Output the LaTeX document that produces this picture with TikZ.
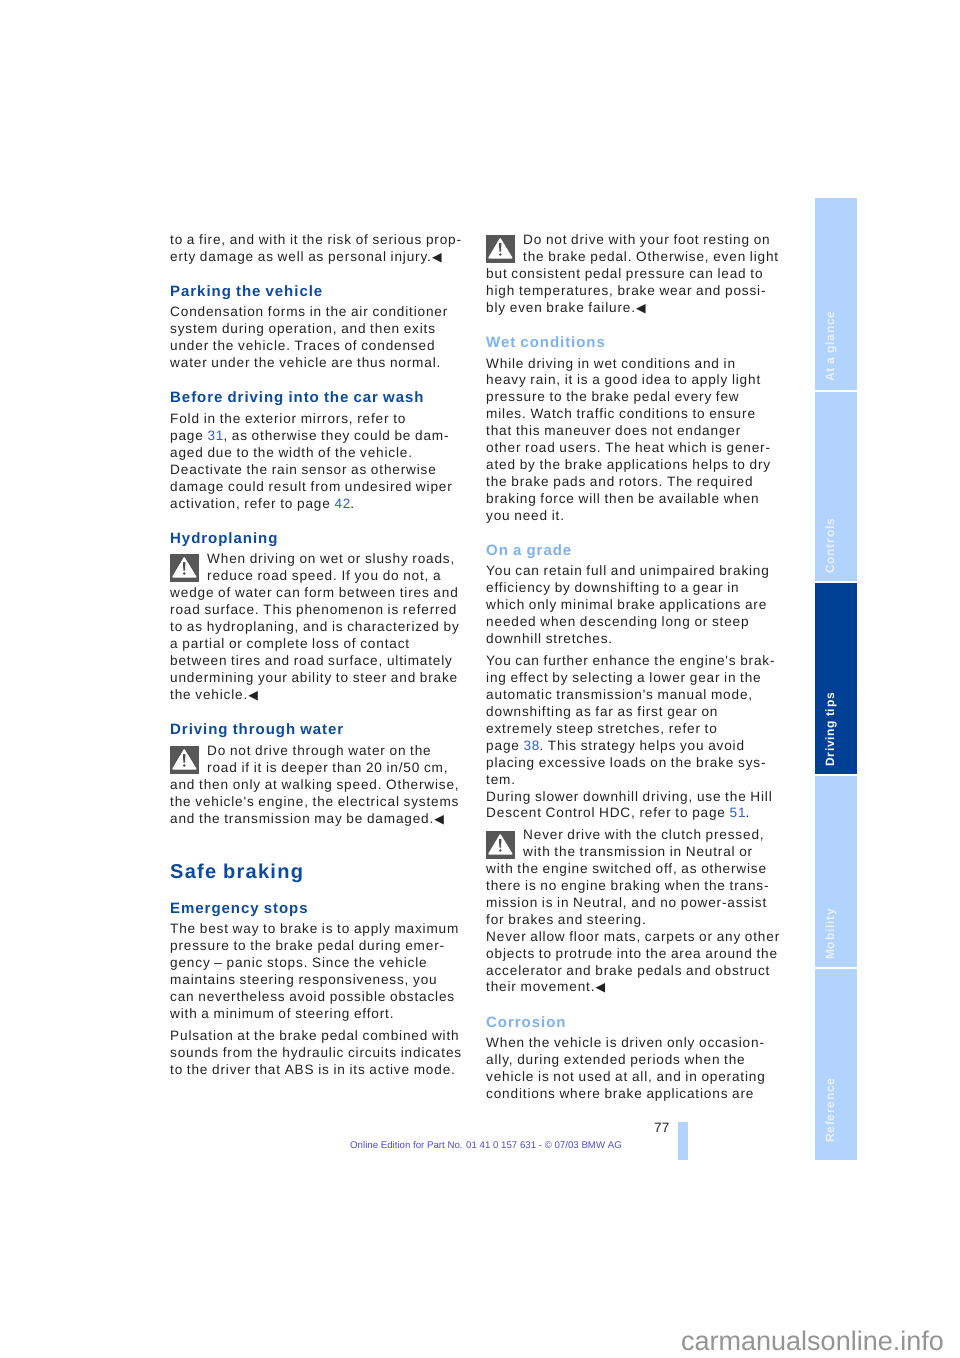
\documentclass[tikz,border=0pt]{standalone}
\usepackage{fontspec}
\setmainfont{Liberation Sans}
\newfontfamily\bodyfam[LetterSpace=6.15]{Liberation Sans}
\newfontfamily\headfam[LetterSpace=6.4,BoldFont={Liberation Sans Bold}]{Liberation Sans}
\newfontfamily\symfam{DejaVu Sans}
\definecolor{bodygray}{HTML}{222222}
\definecolor{headblue}{HTML}{0B4A9E}
\definecolor{paleblue}{HTML}{7DB1F7}
\definecolor{tabblue}{HTML}{B3D3FF}
\definecolor{tabdark}{HTML}{004094}
\definecolor{linkblue}{HTML}{2A5FD0}
\definecolor{footblue}{HTML}{4C4CD8}
\newcommand{\pagelink}[1]{\textcolor{linkblue}{#1}}
\newcommand{\stopmark}{\kern1pt{\symfam\fontsize{12.5pt}{10pt}\selectfont ◀}}
\tikzset{
 x=1pt, y=-1pt,
 bodytext/.style={anchor=base west, inner sep=0pt, yshift=0.5pt, text=bodygray, font=\frenchspacing\bodyfam\fontsize{13.6pt}{17pt}\selectfont},
 headtext/.style={anchor=base west, inner sep=0pt, text=headblue, font=\headfam\bfseries\fontsize{15pt}{17pt}\selectfont},
 paletext/.style={headtext, text=paleblue},
 tabtext/.style={anchor=base west, inner sep=0pt, rotate=90, text=white!68!tabblue, font=\headfam\bfseries\fontsize{12pt}{12pt}\selectfont},
 warnicon/.pic={
   \fill[black!66] (0,0) rectangle (28.5,28);
   \fill[white, rounded corners=1pt] (14.2,2.5) -- (27,23.5) -- (1.8,23.5) -- cycle;
   \fill[black!70] (13,8) -- (15.4,8) -- (15,16.5) -- (13.4,16.5) -- cycle;
   \fill[black!70] (14.2,19.5) circle[radius=1.4];
 }
}
\begin{document}
\begin{tikzpicture}
 \useasboundingbox (0,0) rectangle (960,1358);
 % left column
 \foreach \y/\txt in {245/{to a fire, and with it the risk of serious prop-},
   262/{erty damage as well as personal injury.\stopmark},
   317/{Condensation forms in the air conditioner},
   334/{system during operation, and then exits},
   351/{under the vehicle. Traces of condensed},
   368/{water under the vehicle are thus normal.},
   424/{Fold in the exterior mirrors, refer to},
   441/{page \pagelink{31}, as otherwise they could be dam-},
   458/{aged due to the width of the vehicle.},
   475/{Deactivate the rain sensor as otherwise},
   492/{damage could result from undesired wiper},
   509/{activation, refer to page \pagelink{42}.},
   598/{wedge of water can form between tires and},
   615/{road surface. This phenomenon is referred},
   632/{to as hydroplaning, and is characterized by},
   649/{a partial or complete loss of contact},
   666/{between tires and road surface, ultimately},
   683/{undermining your ability to steer and brake},
   700/{the vehicle.\stopmark},
   790/{and then only at walking speed. Otherwise,},
   807/{the vehicle's engine, the electrical systems},
   824/{and the transmission may be damaged.\stopmark},
   934/{The best way to brake is to apply maximum},
   951/{pressure to the brake pedal during emer-},
   968/{gency – panic stops. Since the vehicle},
   985/{maintains steering responsiveness, you},
   1002/{can nevertheless avoid possible obstacles},
   1019/{with a minimum of steering effort.},
   1041/{Pulsation at the brake pedal combined with},
   1058/{sounds from the hydraulic circuits indicates},
   1075/{to the driver that ABS is in its active mode.}}
   \node[bodytext] (left\y) at (170,\y) {\txt};
 \foreach \y/\txt in {564/{When driving on wet or slushy roads,},
   581/{reduce road speed. If you do not, a},
   756/{Do not drive through water on the},
   773/{road if it is deeper than 20 in/50 cm,}}
   \node[bodytext] (leftin\y) at (207,\y) {\txt};
 \foreach \y/\txt in {296.5/{Parking the vehicle}, 402.5/{Before driving into the car wash},
   543/{Hydroplaning}, 734.5/{Driving through water}, 913.5/{Emergency stops}}
   \node[headtext] at (170,\y) {\txt};
 \node[headtext, font=\headfam\bfseries\fontsize{20pt}{24pt}\selectfont] (safebraking) at (170,878) {Safe braking};
 \pic at (170,554) {warnicon};
 \pic at (170,746) {warnicon};
 % right column
 \foreach \y/\txt in {279/{but consistent pedal pressure can lead to},
   296/{high temperatures, brake wear and possi-},
   313/{bly even brake failure.\stopmark},
   369/{While driving in wet conditions and in},
   385/{heavy rain, it is a good idea to apply light},
   402/{pressure to the brake pedal every few},
   419/{miles. Watch traffic conditions to ensure},
   436/{that this maneuver does not endanger},
   453/{other road users. The heat which is gener-},
   470/{ated by the brake applications helps to dry},
   487/{the brake pads and rotors. The required},
   504/{braking force will then be available when},
   521/{you need it.},
   576/{You can retain full and unimpaired braking},
   593/{efficiency by downshifting to a gear in},
   610/{which only minimal brake applications are},
   627/{needed when descending long or steep},
   644/{downhill stretches.},
   666/{You can further enhance the engine's brak-},
   683/{ing effect by selecting a lower gear in the},
   700/{automatic transmission's manual mode,},
   717/{downshifting as far as first gear on},
   734/{extremely steep stretches, refer to},
   751/{page \pagelink{38}. This strategy helps you avoid},
   768/{placing excessive loads on the brake sys-},
   785/{tem.},
   802/{During slower downhill driving, use the Hill},
   818/{Descent Control HDC, refer to page \pagelink{51}.},
   874/{with the engine switched off, as otherwise},
   891/{there is no engine braking when the trans-},
   908/{mission is in Neutral, and no power-assist},
   925/{for brakes and steering.},
   942/{Never allow floor mats, carpets or any other},
   959/{objects to protrude into the area around the},
   976/{accelerator and brake pedals and obstruct},
   992/{their movement.\stopmark},
   1048/{When the vehicle is driven only occasion-},
   1065/{ally, during extended periods when the},
   1082/{vehicle is not used at all, and in operating},
   1099/{conditions where brake applications are}}
   \node[bodytext] (right\y) at (486,\y) {\txt};
 \foreach \y/\txt in {245/{Do not drive with your foot resting on},
   262/{the brake pedal. Otherwise, even light},
   840/{Never drive with the clutch pressed,},
   857/{with the transmission in Neutral or}}
   \node[bodytext] (rightin\y) at (523,\y) {\txt};
 \foreach \y/\txt in {347/{Wet conditions}, 555.5/{On a grade}, 1027/{Corrosion}}
   \node[paletext] at (486,\y) {\txt};
 \pic at (486,235) {warnicon};
 \pic at (486,831) {warnicon};
 % side tabs
 \foreach \ytop/\ybot/\col in {198/390/tabblue, 392/581/tabblue, 583/774/tabdark, 776/967/tabblue, 969/1160/tabblue}
   \fill[\col] (815,\ytop) rectangle (857,\ybot);
 \foreach \ybot/\txt in {382/{At a glance}, 574/{Controls}, 960/{Mobility}, 1143/{Reference}}
   \node[tabtext] (tab\ybot) at (834,\ybot) {\txt};
 \node[tabtext, text=white] (tabtips) at (834,767) {Driving tips};
 % foot of page
 \fill[tabblue] (678,1122) rectangle (688,1160);
 \node[anchor=base west, inner sep=0pt, text=bodygray, font=\fontsize{13.6pt}{15pt}\selectfont] (pagenum) at (654,1132) {77};
 \node[anchor=base west, inner sep=0pt, text=footblue, font=\fontsize{9.68pt}{11pt}\selectfont] (foot) at (350,1148) {Online Edition for Part No. 01 41 0 157 631 - © 07/03 BMW AG};
 \node[anchor=base west, inner sep=0pt, text=black!42, font=\fontsize{27pt}{28pt}\selectfont] (mark) at (681,1350) {carmanualsonline.info};
\end{tikzpicture}
\end{document}
